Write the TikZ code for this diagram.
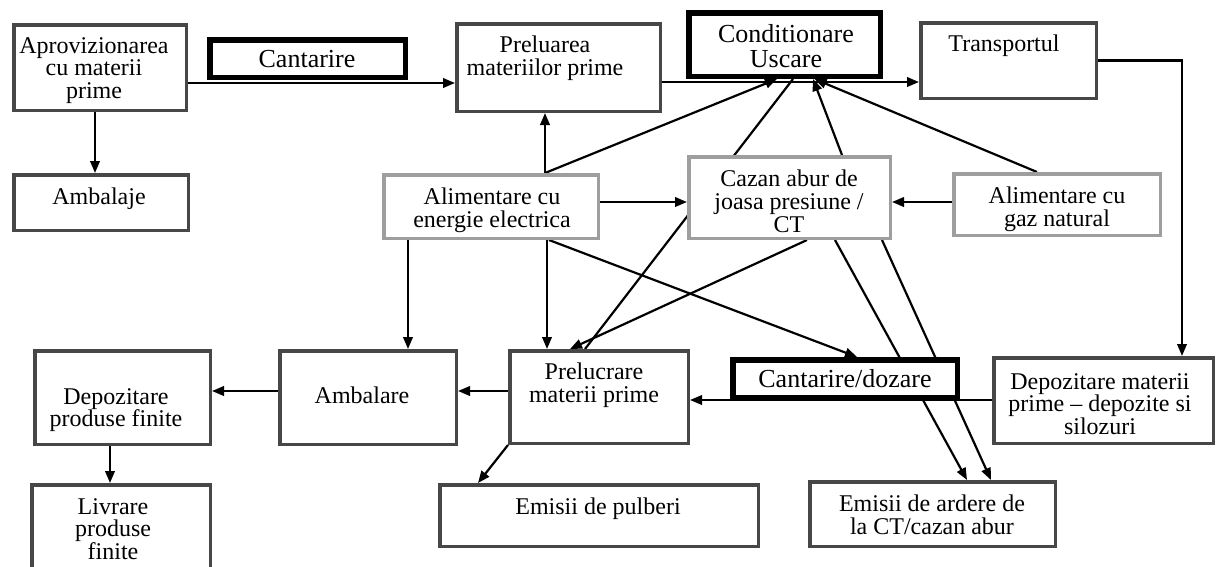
\documentclass[tikz,border=0pt]{standalone}
\usepackage{fontspec}
\setmainfont{Liberation Serif}
\usetikzlibrary{arrows.meta,calc}
\pgfdeclarelayer{lines}
\pgfsetlayers{lines,main}
\tikzset{
 gbox/.style={draw=black!72, line width=3.5pt, fill=white, inner sep=0pt},
 kbox/.style={draw=black, line width=5.5pt, fill=white, inner sep=0pt},
 lbox/.style={draw=black!38, line width=3.5pt, fill=white, inner sep=0pt},
 txt/.style={font=\fontsize{24}{22.8}\selectfont, align=center, anchor=north, inner sep=0pt},
 btxt/.style={txt, font=\fontsize{26}{25}\selectfont},
 conn/.style={line width=2.2pt, draw=black},
 arr/.style={conn, -{Triangle[length=12pt,width=9.5pt]}},
}
\begin{document}
\begin{tikzpicture}[x=1pt,y=-1pt]
\useasboundingbox (0,0) rectangle (1216,566);
% boxes
\node[gbox, minimum width=172.5pt, minimum height=85.5pt] (aprov) at (100,67.5) {};
\node[kbox, minimum width=195.5pt, minimum height=37.5pt] (cant) at (307.5,58.5) {};
\node[gbox, minimum width=203.5pt, minimum height=87.5pt] (prelu) at (558.5,67.5) {};
\node[kbox, minimum width=191.5pt, minimum height=63.5pt] (cond) at (784.5,44.5) {};
\node[gbox, minimum width=175.5pt, minimum height=75.5pt] (transp) at (1008.5,60.5) {};
\node[gbox, minimum width=174.5pt, minimum height=55.5pt] (ambj) at (101,202.5) {};
\node[lbox, minimum width=214.5pt, minimum height=63.5pt] (aliel) at (491,206.5) {};
\node[lbox, minimum width=201.5pt, minimum height=81.5pt] (cazan) at (789.5,197.5) {};
\node[lbox, minimum width=206.5pt, minimum height=61.5pt] (gaz) at (1057,204.5) {};
\node[gbox, minimum width=175.5pt, minimum height=93.5pt] (depf) at (122.5,397.5) {};
\node[gbox, minimum width=176.5pt, minimum height=93.5pt] (ambl) at (368,397.5) {};
\node[gbox, minimum width=178.5pt, minimum height=92.5pt] (prelc) at (599,397) {};
\node[kbox, minimum width=224.5pt, minimum height=37.5pt] (cdoz) at (845,378.5) {};
\node[gbox, minimum width=219.5pt, minimum height=85.5pt] (depmp) at (1103.5,400.5) {};
\node[gbox, minimum width=178.5pt, minimum height=93.5pt] (livr) at (121,531.5) {};
\node[gbox, minimum width=318.5pt, minimum height=61.5pt] (empulb) at (599,515.5) {};
\node[gbox, minimum width=245.5pt, minimum height=64.5pt] (emard) at (932.5,514) {};
% texts
\node[txt] (t1) at (94,37) {Aprovizionarea\\cu materii\\prime};
\node[btxt] (t2) at (307,50.5) {Cantarire};
\node[txt] (t3) at (545,36) {Preluarea\\materiilor prime};
\node[btxt] (t4) at (786,24.5) {Conditionare\\Uscare};
\node[txt] (t5) at (1004,35) {Transportul};
\node[txt] (t6) at (99,188) {Ambalaje};
\node[txt] (t7) at (492,188) {Alimentare cu\\energie electrica};
\node[txt] (t8) at (789,170) {Cazan abur de\\joasa presiune /\\CT};
\node[txt] (t9) at (1057,187) {Alimentare cu\\gaz natural};
\node[txt] (t10) at (116,388) {Depozitare\\produse finite};
\node[txt] (t11) at (362,387) {Ambalare};
\node[txt] (t12) at (594,363) {Prelucrare\\materii prime};
\node[btxt] (t13) at (845,369.5) {Cantarire/dozare};
\node[txt] (t14) at (1100,373) {Depozitare materii\\prime – depozite si\\silozuri};
\node[txt] (t15) at (113,498) {Livrare\\produse\\finite};
\node[txt] (t16) at (598,498) {Emisii de pulberi};
\node[txt] (t17) at (932,495) {Emisii de ardere de\\la CT/cazan abur};
% connectors
\begin{pgfonlayer}{lines}
\fill[white] (0,0) rectangle (1216,566);
\draw[arr] ([xshift=-5pt]aprov.south) -- ([xshift=-6pt]ambj.north);
\draw[arr] ([yshift=-15.5pt]aprov.east) -- ([yshift=-15.5pt]prelu.west);
\draw[arr] ([yshift=-14.5pt]prelu.east) -- ([yshift=-14.5pt]prelu.east -| transp.west);
\draw[arr] ([xshift=54pt]aliel.north) -- ([xshift=54pt]aliel.north |- prelu.south);
\draw[arr] ([xshift=54pt]aliel.north) -- ([xshift=-7.5pt]cond.south);
\draw[conn] ([xshift=-14pt]prelc.north) -- ([xshift=8.5pt]cond.south);
\draw[arr] ([xshift=52.5pt]cazan.north) -- ([xshift=28.5pt]cond.south);
\draw[arr] ([xshift=-20pt]gaz.north) -- ([xshift=30pt]cond.south);
\draw[arr] ([yshift=4.5pt]aliel.east) -- ([yshift=4.5pt]aliel.east -| cazan.west);
\draw[arr] ([yshift=2.5pt]gaz.west) -- ([yshift=2.5pt]gaz.west -| cazan.east);
\draw[arr] (transp.east) -| ([xshift=78.5pt]depmp.north);
\draw[arr] ([xshift=-83pt]aliel.south) -- ([xshift=-83pt]aliel.south |- ambl.north);
\draw[arr] ([xshift=56pt]aliel.south) -- ([xshift=56pt]aliel.south |- prelc.north);
\draw[arr] ([xshift=58pt]aliel.south) -- ([xshift=12pt]cdoz.north);
\draw[arr] ([xshift=17.5pt]cazan.south) -- ([xshift=-29pt]prelc.north);
\draw[arr] ([xshift=45.5pt]cazan.south) -- ([xshift=34.5pt]emard.north);
\draw[arr] ([xshift=92.5pt]cazan.south) -- ([xshift=58.5pt]emard.north);
\draw[arr] ([yshift=0.5pt]depmp.west) -- ([yshift=0.5pt]depmp.west -| prelc.east);
\draw[arr] ([yshift=6pt]prelc.west) -- ([yshift=6pt]prelc.west -| ambl.east);
\draw[arr] ([yshift=6.5pt]ambl.west) -- ([yshift=6.5pt]ambl.west -| depf.east);
\draw[arr] ([xshift=-12.5pt]depf.south) -- ([xshift=-12.5pt]depf.south |- livr.north);
\draw[arr] (prelc.south west) -- ([xshift=-121pt]empulb.north);
\end{pgfonlayer}
\end{tikzpicture}
\end{document}
